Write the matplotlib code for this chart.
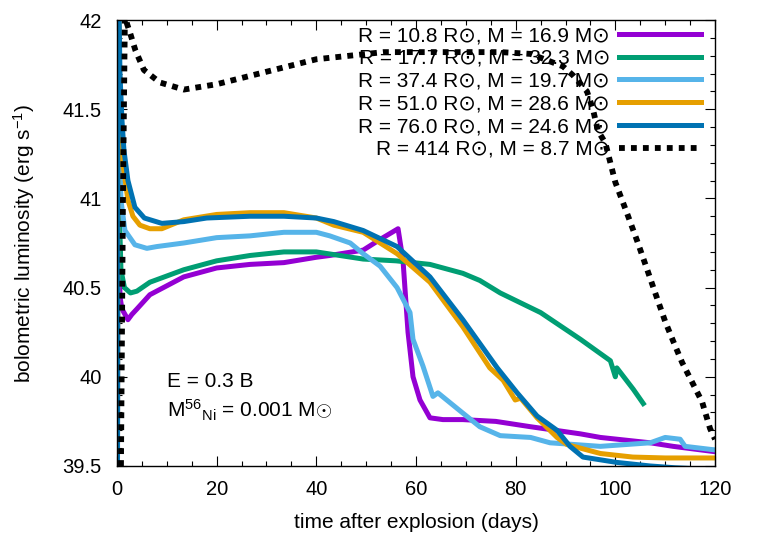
import matplotlib
matplotlib.use("Agg")
import matplotlib.pyplot as plt
from matplotlib.ticker import MultipleLocator

plt.rcParams['font.family'] = ['Liberation Sans', 'DejaVu Sans']
plt.rcParams['mathtext.fontset'] = 'custom'
plt.rcParams['mathtext.rm'] = 'Liberation Sans'
plt.rcParams['mathtext.it'] = 'Liberation Sans:italic'

# R = 10.8 Rsun, M = 16.9 Msun
t_108 = [0.1, 0.2, 0.4, 0.6, 1.0, 2.2, 3.0, 4.0, 6.6, 13.4, 20, 26.7, 33.5, 40, 42.7, 49.4, 52.8, 56.4,
         57.4, 58.4, 59.4, 60.8, 62.8, 65.4, 69.4, 76, 83, 93, 97, 107, 111.6, 120]
L_108 = [39.3, 42.5, 41.0, 40.45, 40.38, 40.32, 40.35, 40.38, 40.46, 40.56, 40.61, 40.63, 40.64, 40.67,
         40.68, 40.71, 40.77, 40.83, 40.65, 40.25, 40.0, 39.87, 39.77, 39.76, 39.76, 39.75, 39.72,
         39.68, 39.66, 39.63, 39.61, 39.58]

# R = 17.7 Rsun, M = 32.3 Msun
t_177 = [0.1, 0.2, 0.4, 0.8, 1.5, 2.7, 4.0, 6.6, 13.4, 20, 26.7, 33.5, 40, 49.4, 56, 62.8, 69.4, 72.8,
         76.9, 85, 93, 99, 100, 100.3, 103.6, 105.6]
L_177 = [39.3, 42.5, 41.0, 40.6, 40.5, 40.47, 40.48, 40.53, 40.60, 40.65, 40.68, 40.70, 40.70, 40.66,
         40.65, 40.63, 40.58, 40.54, 40.47, 40.36, 40.21, 40.09, 40.0, 40.05, 39.93, 39.85]

# R = 37.4 Rsun, M = 19.7 Msun
t_374 = [0.1, 0.2, 0.5, 0.8, 1.6, 3.6, 6.0, 8.0, 13.4, 20, 26.7, 33.5, 40, 42.7, 46.8, 49.4, 52.8,
         56.2, 58.8, 59.4, 61.4, 63.4, 64.4, 68.8, 72.8, 76.9, 83, 86.9, 97, 107, 110, 113, 114, 117,
         120]
L_374 = [39.3, 42.5, 41.3, 40.99, 40.82, 40.74, 40.72, 40.73, 40.75, 40.78, 40.79, 40.81, 40.81, 40.79,
         40.75, 40.69, 40.62, 40.50, 40.36, 40.21, 40.06, 39.89, 39.91, 39.81, 39.72, 39.67, 39.66,
         39.63, 39.61, 39.63, 39.66, 39.65, 39.61, 39.60, 39.59]

# R = 51.0 Rsun, M = 28.6 Msun
t_510 = [0.1, 0.2, 0.6, 1.2, 2.2, 3.2, 4.6, 6.6, 9.0, 13.4, 20, 26.7, 33.5, 40, 43.5, 49.4, 56.2, 62.8,
         69.4, 74.8, 77.5, 79.9, 81, 84.3, 88.3, 90.3, 97, 103.5, 110, 120]
L_510 = [39.3, 42.5, 41.5, 41.19, 40.99, 40.90, 40.85, 40.83, 40.83, 40.88, 40.91, 40.92, 40.92, 40.89,
         40.85, 40.81, 40.69, 40.53, 40.28, 40.05, 39.98, 39.87, 39.88, 39.77, 39.66, 39.62, 39.57,
         39.55, 39.545, 39.545]

# R = 76.0 Rsun, M = 24.6 Msun
t_760 = [0.1, 0.2, 0.6, 1.0, 1.4, 2.2, 3.6, 5.5, 9.0, 13.4, 18, 26.7, 33.5, 40, 43.5, 49.4, 56.2, 62.8,
         69.4, 76.3, 80.3, 84.3, 88.3, 90.9, 93.5, 100.3, 107, 112, 120]
L_760 = [39.3, 42.5, 41.7, 41.44, 41.27, 41.10, 40.95, 40.89, 40.86, 40.87, 40.89, 40.90, 40.90, 40.89,
         40.87, 40.82, 40.73, 40.56, 40.32, 40.05, 39.91, 39.78, 39.70, 39.61, 39.55, 39.52, 39.50,
         39.49, 39.48]

# R = 414 Rsun, M = 8.7 Msun
t_414 = [0.8, 1.2, 1.6, 2.0, 2.6, 3.7, 5.4, 8.6, 13.4, 20, 30, 40, 53.5, 67, 77, 83, 89.5, 91.5, 94.3,
         95.5, 96.5, 98, 100, 102.3, 104.4, 106.4, 108, 110, 111.6, 113.4, 115.4, 117.4, 119, 120]
L_414 = [39.5, 41.0, 42.05, 41.98, 41.93, 41.83, 41.72, 41.65, 41.61, 41.64, 41.71, 41.78, 41.82, 41.82,
         41.82, 41.81, 41.74, 41.69, 41.60, 41.50, 41.38, 41.31, 41.09, 40.92, 40.76, 40.60, 40.47,
         40.31, 40.20, 40.08, 39.97, 39.86, 39.71, 39.65]

labels = [
    "R = 10.8 R\u2299, M = 16.9 M\u2299",
    "R = 17.7 R\u2299, M = 32.3 M\u2299",
    "R = 37.4 R\u2299, M = 19.7 M\u2299",
    "R = 51.0 R\u2299, M = 28.6 M\u2299",
    "R = 76.0 R\u2299, M = 24.6 M\u2299",
    "R = 414 R\u2299, M = 8.7 M\u2299",
]
colors = ["#9400D3", "#009E73", "#56B4E9", "#E69F00", "#0072B2", "black"]

fig = plt.figure(figsize=(7.64, 5.35), dpi=100)
ax = fig.add_axes([0.1531, 0.129, 0.7828, 0.8336])

series = [(t_108, L_108), (t_177, L_177), (t_374, L_374), (t_510, L_510), (t_760, L_760)]
for (t, L), lab, c in zip(series, labels[:5], colors[:5]):
    ax.plot(t, L, color=c, lw=3.6, label=lab, solid_joinstyle='round')
ax.plot(t_414, L_414, color="black", lw=4.2, linestyle=(0, (1, 1.05)), dash_capstyle='butt', label=labels[5])

ax.set_xlim(0, 120)
ax.set_ylim(39.5, 42)
ax.xaxis.set_major_locator(MultipleLocator(20))
ax.xaxis.set_minor_locator(MultipleLocator(5))
ax.yaxis.set_minor_locator(MultipleLocator(0.1))
ax.set_yticks([39.5, 40, 40.5, 41, 41.5, 42])
ax.set_yticklabels(["39.5", "40", "40.5", "41", "41.5", "42"])
ax.tick_params(which='both', direction='in', top=True, right=True, labelsize=14.5)
ax.tick_params(axis='x', pad=10)
ax.tick_params(axis='y', pad=11)
ax.tick_params(which='major', length=7, width=0.8)
ax.tick_params(which='minor', length=3.5, width=0.8)
for s in ax.spines.values():
    s.set_linewidth(1.0)

ax.set_xlabel("time after explosion (days)", fontsize=15, labelpad=10)
ax.set_ylabel("bolometric luminosity (erg s$^{-1}$)", fontsize=15, labelpad=18)

ax.text(10, 39.943, "E = 0.3 B", fontsize=15)
ax.text(10, 39.77, "M$^{56}{}_{\\mathrm{Ni}}$ = 0.001 M$\\odot$", fontsize=15)

ax.legend(loc='upper right', frameon=False, markerfirst=False, fontsize=15,
          handlelength=3.9, labelspacing=0.18, handletextpad=0.45,
          borderaxespad=0.0, bbox_to_anchor=(0.99, 1.005))

fig.savefig("out.png", dpi=100)
